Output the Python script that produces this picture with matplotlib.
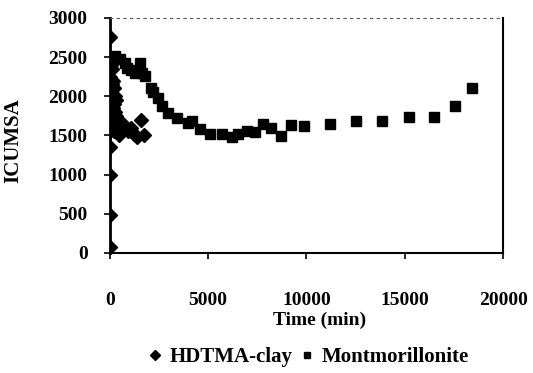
import matplotlib
matplotlib.use("Agg")
import matplotlib.pyplot as plt
from matplotlib.lines import Line2D

plt.rcParams['font.family'] = ['Liberation Serif', 'DejaVu Serif']
plt.rcParams['font.weight'] = 'bold'

# HDTMA-clay (diamonds)
hd_time = [0, 0, 0, 0, 0, 0, 0, 0, 0,
           100, 150, 200, 250, 200, 250, 200, 300, 150, 400,
           50, 100, 300, 150, 300, 100, 350, 200, 450,
           500, 650, 800, 950, 1100, 1250, 1400, 1600, 1750]
hd_icumsa = [80, 480, 1000, 1350, 1550, 1800, 2050, 2250, 2750,
             2350, 2200, 2100, 2000, 1900, 1800, 1700, 1650, 1600, 1550,
             2400, 2150, 1950, 1850, 1750, 1650, 1600, 1550, 1500,
             1600, 1650, 1600, 1550, 1600, 1520, 1480, 1700, 1500]

# Montmorillonite (squares)
mm_time = [50, 250, 500, 760, 900, 1100, 1270, 1520, 1650, 1780, 2080, 2200,
           2440, 2650, 2950, 3410, 3970, 4160, 4570, 5080, 5690, 6190, 6500,
           7000, 7360, 7770, 8220, 8680, 9190, 9850, 11220, 12520, 13840,
           15220, 16490, 17560, 18420]
mm_icumsa = [2500, 2520, 2480, 2430, 2360, 2330, 2300, 2420, 2300, 2260, 2100, 2050,
             1980, 1880, 1780, 1720, 1660, 1680, 1577, 1513, 1513, 1474, 1513,
             1550, 1538, 1640, 1600, 1487, 1630, 1615, 1640, 1680, 1680,
             1730, 1740, 1880, 2110]

x_ticks = [0, 5000, 10000, 15000, 20000]
y_ticks = [0, 500, 1000, 1500, 2000, 2500, 3000]

fig = plt.figure(figsize=(5.33, 3.73), dpi=100)
ax = fig.add_axes([0.206, 0.322, 0.738, 0.630])

ax.plot(hd_time, hd_icumsa, linestyle='none', marker='D', markersize=7,
        color='black', label='HDTMA-clay')
ax.plot(mm_time, mm_icumsa, linestyle='none', marker='s', markersize=7,
        color='black', label='Montmorillonite')

ax.set_xlim(0, 20000)
ax.set_ylim(0, 3000)
ax.set_xticks(x_ticks)
ax.set_yticks(y_ticks)
ax.set_xticklabels([str(v) for v in x_ticks], fontsize=14, fontweight='bold')
ax.set_yticklabels([str(v) for v in y_ticks], fontsize=14, fontweight='bold')
ax.tick_params(axis='both', direction='out', length=4, width=1.2)
ax.tick_params(axis='y', pad=12)
ax.tick_params(axis='x', pad=24)

ax.spines['left'].set_linewidth(2)
ax.spines['bottom'].set_linewidth(1.5)
ax.spines['right'].set_linewidth(1.5)
ax.spines['top'].set_linewidth(0.8)
ax.spines['top'].set_linestyle((0, (2, 4)))
ax.spines['top'].set_color('#555555')

ax.set_xlabel('Time (min)', fontsize=14, fontweight='bold')
ax.xaxis.set_label_coords(0.534, -0.25)
ax.set_ylabel('ICUMSA', fontsize=15, fontweight='bold')
ax.yaxis.set_label_coords(-0.221, 0.477)

handles = [Line2D([], [], linestyle='none', marker='D', markersize=5, color='black'),
           Line2D([], [], linestyle='none', marker='s', markersize=5, color='black')]
fig.legend(handles, ['HDTMA-clay', 'Montmorillonite'], loc='center',
           bbox_to_anchor=(0.578, 0.043), ncol=2, frameon=False,
           prop={'size': 15, 'weight': 'bold'}, handletextpad=0.3,
           columnspacing=0.3, handlelength=0.8, borderpad=0)

fig.savefig('out.png', dpi=100)
